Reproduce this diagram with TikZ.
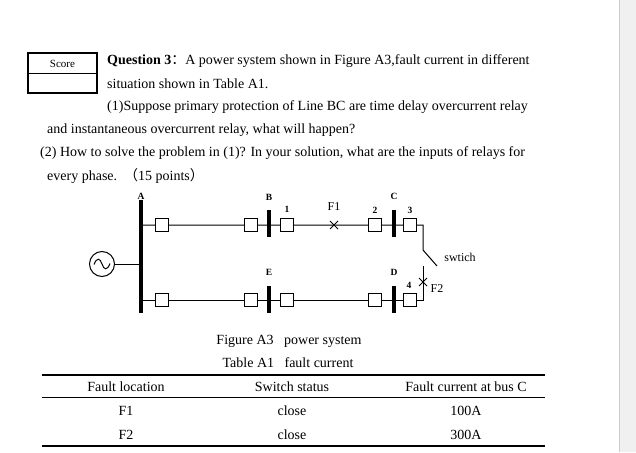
\documentclass[tikz,border=0pt]{standalone}
\usepackage{fontspec}
\setmainfont{Liberation Serif}
\newfontfamily\cjkf{Noto Sans CJK SC}
\begin{document}
\begin{tikzpicture}[x=1pt,y=-1pt,
  txt/.style={inner sep=0pt,anchor=west,font=\fontsize{14}{16}\selectfont},
  ctr/.style={inner sep=0pt,font=\fontsize{14}{16}\selectfont},
  lbl/.style={inner sep=0pt,font=\bfseries\fontsize{9.5}{10}\selectfont},
  brk/.style={draw,fill=white,minimum size=13pt,inner sep=0pt},
  busbar/.style={line width=3.2pt},
  wire/.style={line width=1pt}]
\useasboundingbox (0,0) rectangle (636,452);
\fill[gray!12] (619,0) rectangle (636,452);
\draw[gray!40] (619,0) -- (619,452);
% score box
\draw[line width=1.3pt] (28,53) rectangle (97,93);
\draw[line width=1pt] (28,73) -- (97,73);
\node[ctr,font=\fontsize{11}{12}\selectfont] (score) at (62.5,64) {Score};
% text
\node[txt] (q1) at (107,61) {\textbf{Question 3}{\cjkf ：}A power system shown in Figure A3,fault current in different};
\node[txt] (q2) at (107,84) {situation shown in Table A1.};
\node[txt] (q3) at (107,107) {(1)Suppose primary protection of Line BC are time delay overcurrent relay};
\node[txt] (q4) at (47,130) {and instantaneous overcurrent relay, what will happen?};
\node[txt] (q5) at (40,153) {(2) How to solve the problem in (1)? In your solution, what are the inputs of relays for};
\node[txt] (q6) at (47,176) {every phase.\ \ {\cjkf （}15 points{\cjkf ）}};
% diagram
\coordinate (Atop) at (141,200); \coordinate (Abot) at (141,313);
\draw[busbar] (Atop) -- (Abot);
\coordinate (Btop) at (269,210); \coordinate (Bbot) at (269,237);
\coordinate (Ctop) at (394,210); \coordinate (Cbot) at (394,237);
\coordinate (Etop) at (269,286); \coordinate (Ebot) at (269,313);
\coordinate (Dtop) at (394,286); \coordinate (Dbot) at (394,313);
\draw[busbar] (Btop) -- (Bbot); \draw[busbar] (Ctop) -- (Cbot);
\draw[busbar] (Etop) -- (Ebot); \draw[busbar] (Dtop) -- (Dbot);
\node[draw,wire,circle,minimum size=25pt,inner sep=0pt] (gen) at (102,264) {};
\draw[wire] (94,264.5) .. controls (97,257) and (100,258) .. (102,264) .. controls (104,270) and (107,271) .. (110,263.5);
\coordinate (gA) at (141,264);
\draw[wire] (gen) -- (gA);
\coordinate (t0) at (141,225); \coordinate (b0) at (141,300);
\coordinate (tC) at (423,225); \coordinate (sw1) at (423,250); \coordinate (sw2) at (437,266);
\coordinate (sw3) at (423,266); \coordinate (bD) at (423,300);
\draw[wire] (t0) -- (tC) -- (sw1) -- (sw2);
\draw[wire] (sw3) -- (bD) -- (b0);
\foreach \n/\x in {ta/162,tb/251,t1/287,t2/375,t3/410}{\node[brk,wire] (\n) at (\x,225) {};}
\foreach \n/\x in {ba/162,bb/251,b1/287,b2/375,b4/410}{\node[brk,wire] (\n) at (\x,300) {};}
\coordinate (F1x) at (334,225); \coordinate (F2x) at (423,282);
\draw[wire] ([shift={(-4,-4)}]F1x) -- ([shift={(4,4)}]F1x) ([shift={(-4,4)}]F1x) -- ([shift={(4,-4)}]F1x);
\draw[wire] ([shift={(-4,-4)}]F2x) -- ([shift={(4,4)}]F2x) ([shift={(-4,4)}]F2x) -- ([shift={(4,-4)}]F2x);
\node[lbl] (lA) at (141,196) {A};
\node[lbl] (lB) at (269,197) {B};
\node[lbl] (lC) at (394,196) {C};
\node[lbl] (lE) at (269,272) {E};
\node[lbl] (lD) at (394,272) {D};
\node[lbl] (l1) at (287,209) {1};
\node[lbl] (l2) at (375,210) {2};
\node[lbl] (l3) at (410,210) {3};
\node[lbl] (l4) at (409,285) {4};
\node[inner sep=0pt,font=\fontsize{12}{12}\selectfont] (lF1) at (334,207) {F1};
\node[inner sep=0pt,font=\fontsize{12}{12}\selectfont] (lF2) at (437,289) {F2};
\node[inner sep=0pt,font=\fontsize{12}{12}\selectfont] (lsw) at (460,257) {swtich};
% captions
\node[ctr] (cap1) at (289,341) {Figure A3\ \ \ power system};
\node[ctr] (cap2) at (288,363) {Table A1\ \ \ fault current};
% table
\draw[line width=1.2pt] (42,375) -- (545,375);
\draw[line width=1pt] (42,397) -- (545,397);
\draw[line width=1.2pt] (42,446) -- (545,446);
\node[ctr] (h1) at (126,387) {Fault location};
\node[ctr] (h2) at (292,387) {Switch status};
\node[ctr] (h3) at (466,387) {Fault current at bus C};
\node[ctr] (r11) at (126,411) {F1};
\node[ctr] (r12) at (292,411) {close};
\node[ctr] (r13) at (466,411) {100A};
\node[ctr] (r21) at (126,435) {F2};
\node[ctr] (r22) at (292,435) {close};
\node[ctr] (r23) at (466,435) {300A};
\end{tikzpicture}
\end{document}
